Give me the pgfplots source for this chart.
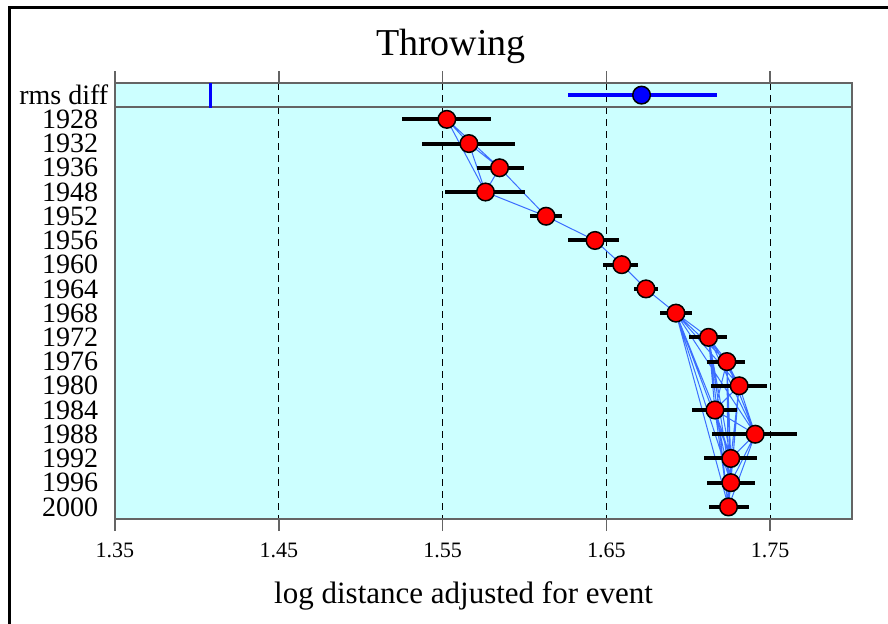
\documentclass[border=0pt]{standalone}
\usepackage{fontspec}
\setmainfont{Liberation Serif}
\usepackage{pgfplots}
\pgfplotsset{compat=1.18}
\usepackage{pgfplotstable}
\definecolor{bgcyan}{RGB}{204,255,255}
\definecolor{linkblue}{RGB}{60,110,255}
\definecolor{axgray}{RGB}{100,100,100}

\pgfplotstableread{
yr x em ep
0 1.5526 0.0272 0.0271
1 1.5661 0.0285 0.0284
2 1.5848 0.0136 0.0148
3 1.5762 0.0250 0.0244
4 1.6132 0.0097 0.0098
5 1.6431 0.0163 0.0148
6 1.6594 0.0112 0.0097
7 1.6742 0.0075 0.0071
8 1.6925 0.0098 0.0097
9 1.7124 0.0122 0.0110
10 1.7236 0.0124 0.0110
11 1.7311 0.0173 0.0173
12 1.7163 0.0137 0.0132
13 1.7409 0.0261 0.0257
14 1.7260 0.0161 0.0159
15 1.7260 0.0148 0.0147
16 1.7246 0.0122 0.0126
}\years

\begin{document}
\begin{tikzpicture}
\begin{axis}[
  scale only axis, width=368.5pt, height=218pt,
  xmin=1.35, xmax=1.8, ymin=-1.5, ymax=16.5, y dir=reverse,
  axis background/.style={fill=bgcyan},
  axis line style={draw=axgray, line width=1pt},
  xtick={1.35,1.45,1.55,1.65,1.75},
  xticklabels={1.35,1.45,1.55,1.65,1.75},
  xtick align=outside, major tick length=6pt,
  xtick style={draw=axgray, line width=0.75pt},
  ytick style={draw=none},
  xmajorgrids,
  major grid style={black, line width=0.6pt, dash pattern=on 3.5pt off 2.5pt},
  ytick={-1,0,...,16},
  yticklabels={rms diff\kern-5pt,1928,1932,1936,1948,1952,1956,1960,1964,1968,1972,1976,1980,1984,1988,1992,1996,2000},
  xticklabel style={font=\fontsize{11}{11}\selectfont, anchor=north, yshift=-2.5pt},
  yticklabel style={font=\fontsize{14}{14}\selectfont, anchor=east, inner sep=0pt, xshift=-8.2pt},
  /pgf/number format/assume math mode=true,
  xlabel={log distance adjusted for event},
  xlabel style={font=\fontsize{15.5}{15.5}\selectfont, at={(axis description cs:0.473,0)}, anchor=center, yshift=-38.5pt},
  unbounded coords=jump,
]
% links between games
\addplot[linkblue, line width=0.5pt] coordinates {
(1.5526,0) (1.5848,2) (1.6132,4) (1.5762,3) (1.5526,0) (1.5661,1) (1.5762,3) (1.5848,2) (1.5661,1) (nan,nan)
(1.6132,4) (1.6431,5) (1.6594,6) (1.6742,7) (1.6925,8) (nan,nan)
(1.6925,8) (1.7124,9) (nan,nan) (1.6925,8) (1.7236,10) (nan,nan) (1.6925,8) (1.7311,11) (nan,nan)
(1.6925,8) (1.7163,12) (nan,nan) (1.6925,8) (1.7409,13) (nan,nan) (1.6925,8) (1.7260,14) (nan,nan)
(1.6925,8) (1.7260,15) (nan,nan) (1.6925,8) (1.7246,16) (nan,nan)
(1.7124,9) (1.7236,10) (nan,nan) (1.7124,9) (1.7311,11) (nan,nan) (1.7124,9) (1.7163,12) (nan,nan)
(1.7124,9) (1.7409,13) (nan,nan) (1.7124,9) (1.7260,14) (nan,nan) (1.7124,9) (1.7260,15) (nan,nan)
(1.7124,9) (1.7246,16) (nan,nan)
(1.7236,10) (1.7311,11) (nan,nan) (1.7236,10) (1.7163,12) (nan,nan) (1.7236,10) (1.7409,13) (nan,nan)
(1.7236,10) (1.7260,14) (nan,nan) (1.7236,10) (1.7260,15) (nan,nan) (1.7236,10) (1.7246,16) (nan,nan)
(1.7311,11) (1.7163,12) (nan,nan) (1.7311,11) (1.7409,13) (nan,nan) (1.7311,11) (1.7260,14) (nan,nan)
(1.7311,11) (1.7260,15) (nan,nan) (1.7311,11) (1.7246,16) (nan,nan)
(1.7163,12) (1.7409,13) (nan,nan) (1.7163,12) (1.7260,14) (nan,nan) (1.7163,12) (1.7260,15) (nan,nan)
(1.7163,12) (1.7246,16) (nan,nan)
(1.7409,13) (1.7260,14) (nan,nan) (1.7409,13) (1.7260,15) (nan,nan) (1.7409,13) (1.7246,16) (nan,nan)
(1.7260,14) (1.7260,15) (1.7246,16) (1.7260,14)
};
% separator line
\addplot[axgray, line width=1pt] coordinates {(1.35,-0.5) (1.8,-0.5)};
% rms marker
\addplot[blue, line width=1.75pt] coordinates {(1.4084,-1.5) (1.4084,-0.45)};
\addplot[only marks, mark=*, mark size=4.4pt,
  mark options={fill=blue, draw=black, line width=0.75pt},
  error bars/.cd, x dir=both, x explicit, error mark=none,
  error bar style={blue, line width=1.75pt}]
  coordinates {(1.6715,-1) += (0.0460,0) -= (0.0447,0)};
% games
\addplot[only marks, mark=*, mark size=4.4pt,
  mark options={fill=red, draw=black, line width=0.75pt},
  error bars/.cd, x dir=both, x explicit, error mark=none,
  error bar style={black, line width=2pt}]
  table[x=x, y=yr, x error plus=ep, x error minus=em] {\years};
\end{axis}
\node[font=\fontsize{19}{19}\selectfont] at (168pt,236.5pt) {Throwing};
\draw[line width=1.5pt] (-52.5pt,-80pt) rectangle (420pt,256pt);
\pgfresetboundingbox
\path[use as bounding box] (-57.5pt,-52pt) rectangle (386.5pt,259.5pt);
\end{tikzpicture}
\end{document}
